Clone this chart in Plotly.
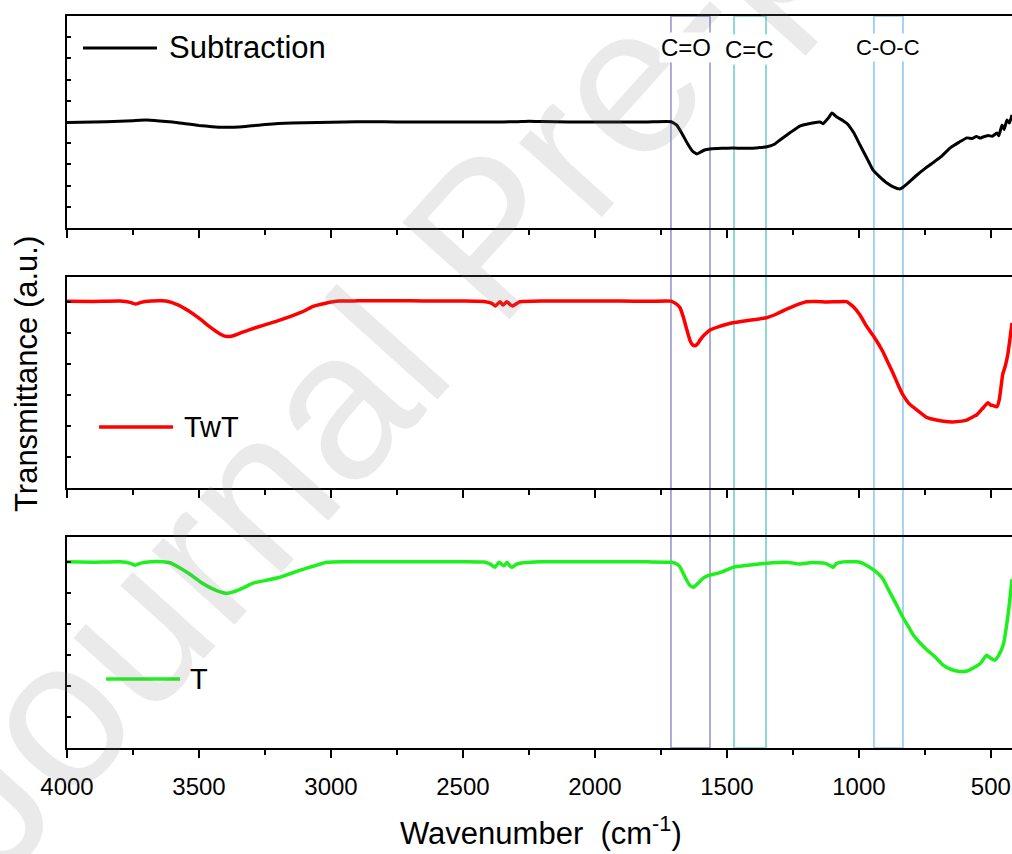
import plotly.graph_objects as go

# ---------------- data ----------------
sub_wn = [4000, 3900, 3800, 3750, 3700, 3650, 3600, 3550, 3500, 3450, 3400, 3350, 3300, 3250, 3200, 3100,
          3000, 2900, 2800, 2700, 2600, 2500, 2400, 2300, 2250, 2200, 2100, 2000, 1900, 1800, 1712, 1690,
          1670, 1650, 1630, 1614, 1600, 1585, 1564, 1520, 1477, 1420, 1380, 1348, 1320, 1299, 1260, 1224,
          1190, 1148, 1136, 1115, 1102, 1085, 1060, 1045, 1020, 996, 970, 947, 920, 894, 870, 845, 833,
          810, 780, 750, 720, 690, 655, 620, 591, 570, 555, 540, 530, 510, 495, 477, 470, 458, 450, 439,
          430, 420]
sub_val = [49.8, 50.0, 50.3, 50.6, 50.9, 50.5, 50.0, 49.2, 48.4, 47.8, 47.5, 47.6, 48.2, 48.8, 49.3, 49.7,
           49.9, 50.1, 50.1, 50.0, 50.0, 50.0, 50.0, 50.1, 50.3, 50.2, 50.0, 50.0, 50.0, 50.0, 50.1, 48.5,
           44.5, 40.0, 36.2, 34.9, 35.8, 36.8, 37.3, 37.6, 37.7, 37.6, 37.9, 38.3, 39.5, 41.5, 45.0, 48.1,
           49.2, 50.0, 49.2, 52.0, 54.2, 52.5, 50.6, 49.3, 45.0, 39.2, 33.0, 27.4, 24.0, 21.2, 19.4, 18.4, 19.2,
           21.6, 25.0, 28.0, 30.7, 33.5, 37.7, 40.5, 42.5, 42.2, 43.2, 42.4, 42.9, 43.6, 43.3, 44.8, 43.5,
           48.6, 46.5, 50.9, 49.5, 53.3]

twt_wn = [4000, 3900, 3800, 3760, 3740, 3720, 3680, 3640, 3620, 3580, 3540, 3500, 3460, 3420, 3395, 3370,
          3340, 3307, 3260, 3205, 3150, 3100, 3070, 3020, 2970, 2900, 2800, 2700, 2600, 2500, 2420, 2390,
          2377, 2360, 2348, 2334, 2320, 2312, 2295, 2284, 2200, 2100, 2000, 1900, 1800, 1712, 1695, 1678,
          1665, 1653, 1640, 1630, 1621, 1610, 1602, 1585, 1564, 1530, 1500, 1477, 1420, 1350, 1310, 1274,
          1240, 1199, 1160, 1123, 1080, 1047, 1020, 996, 970, 943, 909, 890, 871, 850, 833, 810, 781, 744,
          719, 680, 644, 610, 592, 567, 554, 530, 511, 500, 494, 477, 468, 455, 445, 435, 420]
twt_val = [88.5, 88.4, 88.6, 88.0, 87.2, 88.0, 88.6, 88.7, 88.5, 86.8, 84.0, 80.5, 76.5, 73.0, 71.8, 72.2,
           73.6, 75.1, 77.0, 79.1, 81.5, 84.0, 86.0, 87.6, 88.6, 88.7, 88.7, 88.7, 88.6, 88.6, 88.4, 87.5,
           86.3, 88.3, 86.7, 88.3, 86.8, 86.3, 87.6, 88.3, 88.6, 88.6, 88.6, 88.6, 88.5, 88.6, 87.5, 85.6,
           81.0, 75.5, 70.0, 67.8, 67.4, 68.5, 70.1, 72.6, 74.9, 76.5, 77.6, 78.3, 79.4, 80.7, 82.6, 84.8,
           86.6, 88.3, 88.4, 88.2, 88.3, 88.3, 85.8, 82.0, 76.5, 71.7, 64.6, 59.5, 54.5, 48.5, 44.1, 40.0, 37.0, 33.5,
           32.6, 31.6, 31.3, 31.7, 32.2, 33.8, 34.6, 37.9, 40.4, 39.2, 39.2, 38.5, 42.0, 54.0, 58.0, 64.0, 78.2]

t_wn = [4000, 3900, 3800, 3760, 3742, 3720, 3680, 3640, 3610, 3572, 3530, 3496, 3450, 3420, 3395, 3370,
        3330, 3295, 3240, 3193, 3150, 3092, 3050, 3016, 2950, 2900, 2800, 2700, 2600, 2500, 2420, 2395,
        2379, 2364, 2345, 2333, 2320, 2314, 2298, 2284, 2200, 2100, 2000, 1900, 1800, 1710, 1690, 1678,
        1665, 1653, 1640, 1627, 1610, 1591, 1570, 1552, 1515, 1477, 1420, 1350, 1274, 1224, 1180, 1130,
        1110, 1098, 1085, 1060, 1040, 1010, 996, 970, 946, 925, 908, 890, 870, 850, 832, 810, 794, 770,
        744, 710, 681, 650, 618, 590, 567, 540, 517, 500, 485, 470, 453, 434, 420]
t_val = [88.2, 88.0, 88.2, 87.5, 86.6, 87.6, 88.3, 88.3, 87.8, 85.3, 82.0, 78.8, 75.5, 74.0, 73.3, 74.0,
         76.0, 78.1, 79.6, 80.9, 82.8, 85.2, 86.8, 88.0, 88.3, 88.2, 88.3, 88.3, 88.3, 88.3, 88.1, 87.0,
         85.6, 88.0, 86.3, 87.9, 86.0, 85.6, 87.0, 87.5, 88.2, 88.3, 88.3, 88.3, 88.2, 88.0, 87.2, 85.9,
         82.6, 79.6, 77.0, 76.2, 78.0, 80.4, 81.8, 82.3, 83.6, 85.6, 86.6, 87.5, 88.0, 87.2, 87.9, 87.6,
         86.5, 85.6, 87.4, 88.2, 88.3, 88.2, 88.0, 86.5, 84.5, 82.4, 80.0, 75.5, 70.8, 66.0, 61.6, 57.0, 53.6, 50.0,
         46.7, 43.0, 39.3, 37.2, 36.3, 36.5, 37.9, 40.0, 43.9, 42.5, 41.6, 44.0, 49.0, 64.0, 80.0]

band_labels = ["C=O", "C=C", "C-O-C"]
band_lo = [1564, 1352, 833]
band_hi = [1712, 1473, 943]
band_label_pos = [1655, 1413, 890]

series_names = ["Subtraction", "TwT", "T"]

# ---------------- styling ----------------
FONT = "Liberation Sans, Arial, sans-serif"
colors = ["#000000", "#ff0000", "#1ef01e"]
widths = [3, 3.5, 3.5]
band_colors = ["#7f7fc9", "#8ed8cf", "#8cc3ee"]
band_widths = [1.3, 2, 1.5]

fig = go.Figure()
data = [(sub_wn, sub_val), (twt_wn, twt_val), (t_wn, t_val)]
axes = [("x", "y"), ("x2", "y2"), ("x3", "y3")]
for (wn, val), (xa, ya), name, c, w in zip(data, axes, series_names, colors, widths):
    fig.add_trace(go.Scatter(x=wn, y=val, xaxis=xa, yaxis=ya, mode="lines", name=name,
                             showlegend=False, hoverinfo="skip",
                             line=dict(color=c, width=w, shape="spline", smoothing=0.4)))

domains = [[0.7104, 1.0], [0.3552, 0.6434], [0.0, 0.2883]]
ydticks = [10, 14.7, 14.7]

layout = dict(width=1012, height=854, margin=dict(l=67, r=0, t=16, b=106, autoexpand=False),
              paper_bgcolor="white", plot_bgcolor="white",
              font=dict(family=FONT, color="black"), showlegend=False)
for i in range(3):
    sfx = "" if i == 0 else str(i + 1)
    layout["xaxis" + sfx] = dict(
        anchor="y" + sfx, domain=[0, 1], range=[4000, 420], autorange=False, automargin=False,
        showline=True, linecolor="black", linewidth=2, mirror=True,
        ticks="outside", ticklen=8, tickwidth=2, tickcolor="black",
        tick0=0, dtick=500, showgrid=False, zeroline=False, ticklabelstandoff=8,
        minor=dict(ticks="outside", ticklen=5, tickwidth=2, tickcolor="black", dtick=250, showgrid=False),
        showticklabels=(i == 2), tickfont=dict(family=FONT, size=24, color="black"),
    )
    layout["yaxis" + sfx] = dict(
        anchor="x" + sfx, domain=domains[i], range=[0, 100], autorange=False, automargin=False,
        showline=True, linecolor="black", linewidth=2, mirror=False,
        ticks="inside", ticklen=4, tickwidth=1.5, tickcolor="black",
        tick0=0, dtick=ydticks[i], showgrid=False, zeroline=False, showticklabels=False,
    )
fig.update_layout(**layout)

shapes = []
annotations = []
# watermark
annotations.append(dict(text="Journal Pre-proof", xref="paper", yref="paper", x=0.445, y=0.70,
                        xanchor="center", yanchor="middle", showarrow=False, textangle=-48,
                        font=dict(family=FONT, size=210, color="rgba(128,128,128,0.17)")))
# absorption bands
for lo, hi, c, w, lab, lp in zip(band_lo, band_hi, band_colors, band_widths, band_labels, band_label_pos):
    shapes.append(dict(type="rect", xref="x3", yref="paper", x0=hi, x1=lo, y0=0, y1=1,
                       line=dict(color=c, width=w), fillcolor="rgba(0,0,0,0)", layer="below"))
    annotations.append(dict(text=lab, xref="x3", yref="paper", x=lp, y=0.9563 if lab != "C=C" else 0.9536,
                            xanchor="center", yanchor="middle", showarrow=False, bgcolor="white",
                            borderpad=1,
                            font=dict(family=FONT, size=24 if lab != "C-O-C" else 22, color="black")))

# per-panel legends
leg_line = [(0.0169, 0.0952, 0.9563), (0.0339, 0.1122, 0.4385), (0.0413, 0.1196, 0.0943)]
leg_text_x = [0.1058, 0.1217, 0.128]
leg_size = [31, 29, 29]
for (x0, x1, yy), tx, name, c, w, fs in zip(leg_line, leg_text_x, series_names, colors, widths, leg_size):
    shapes.append(dict(type="line", xref="paper", yref="paper", x0=x0, x1=x1, y0=yy, y1=yy,
                       line=dict(color=c, width=w)))
    annotations.append(dict(text=name, xref="paper", yref="paper", x=tx, y=yy, xanchor="left",
                            yanchor="middle", showarrow=False,
                            font=dict(family=FONT, size=fs, color="black")))

# axis titles
annotations.append(dict(text="Wavenumber  (cm<sup>-1</sup>)", xref="paper", yref="paper", x=0.502, y=-0.114,
                        xanchor="center", yanchor="middle", showarrow=False,
                        font=dict(family=FONT, size=31, color="black")))
annotations.append(dict(text="Transmittance (a.u.)", xref="paper", yref="paper", x=-0.0423, y=0.511,
                        xanchor="center", yanchor="middle", showarrow=False, textangle=-90,
                        font=dict(family=FONT, size=31, color="black")))

fig.update_layout(shapes=shapes, annotations=annotations)
fig.write_html("out.html", config={"displayModeBar": False},
               post_script="document.body.style.margin='0';document.body.style.padding='0';")
